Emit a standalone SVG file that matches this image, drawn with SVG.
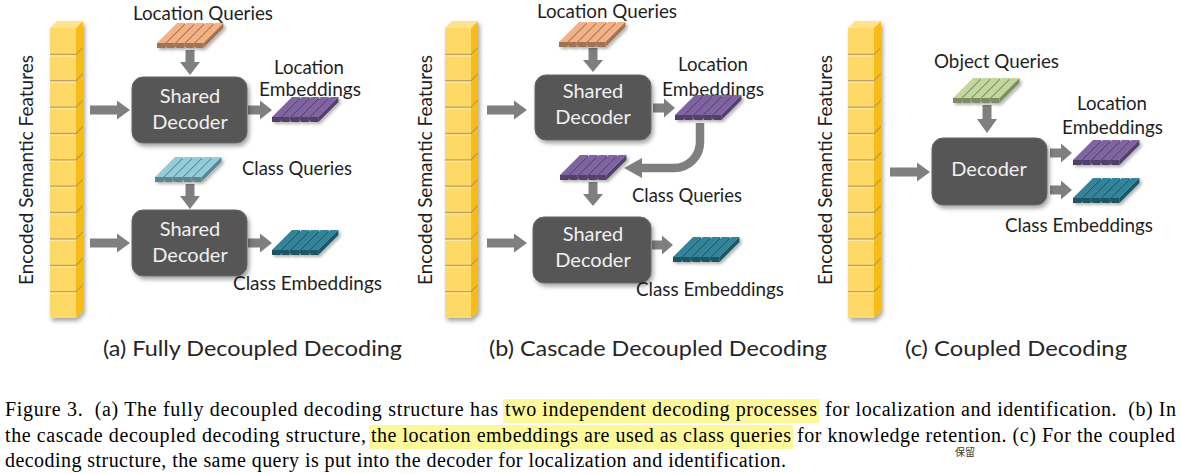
<svg xmlns="http://www.w3.org/2000/svg" xmlns:xlink="http://www.w3.org/1999/xlink" width="1181" height="474" viewBox="0 0 1181 474">
<style>
.lbl{font-family:"Lato","Open Sans","Liberation Sans",sans-serif;font-size:20px;fill:#1f1f1f}
.cap{font-family:"Lato","Open Sans","Liberation Sans",sans-serif;font-size:22px;fill:#262626}
.dt{font-family:"Lato","Open Sans","Liberation Sans",sans-serif;font-size:20px;fill:#f0f0f0;text-anchor:middle}
.fig{font-family:"Liberation Serif","Times New Roman",serif;font-size:20px;fill:#000;white-space:pre}
.arr{fill:#7f7f7f}
.dec{fill:#575757;stroke:#666;stroke-width:1}
.hl{fill:#fdf99a}
.c{fill:currentColor}
.d{fill:#000;fill-opacity:.35}
.sep{stroke:#a8925a;stroke-width:1.3;stroke-opacity:.75}
.seph{stroke:#ffe9a8;stroke-width:1}
</style>
<defs>
<filter id="sh" x="-20%" y="-20%" width="150%" height="150%">
<feDropShadow dx="2" dy="3" stdDeviation="2" flood-color="#000" flood-opacity=".35"/>
</filter>
<filter id="shs" x="-20%" y="-30%" width="150%" height="170%">
<feDropShadow dx="2" dy="2" stdDeviation="1.5" flood-color="#000" flood-opacity=".3"/>
</filter>
<g id="slab">
<polygon class="c" points="8,20 28,0 28,5 8,25"/><polygon class="d" points="8,20 28,0 28,5 8,25"/>
<rect class="c" x="0" y="20" width="8" height="5"/><rect class="d" x="0" y="20" width="8" height="5"/>
<polygon class="c" points="0,20 8,20 28,0 20,0"/>
<polygon class="c" points="17.6,20 37.6,0 37.6,5 17.6,25"/><polygon class="d" points="17.6,20 37.6,0 37.6,5 17.6,25"/>
<rect class="c" x="9.6" y="20" width="8" height="5"/><rect class="d" x="9.6" y="20" width="8" height="5"/>
<polygon class="c" points="9.6,20 17.6,20 37.6,0 29.6,0"/>
<polygon class="c" points="27.2,20 47.2,0 47.2,5 27.2,25"/><polygon class="d" points="27.2,20 47.2,0 47.2,5 27.2,25"/>
<rect class="c" x="19.2" y="20" width="8" height="5"/><rect class="d" x="19.2" y="20" width="8" height="5"/>
<polygon class="c" points="19.2,20 27.2,20 47.2,0 39.2,0"/>
<polygon class="c" points="36.8,20 56.8,0 56.8,5 36.8,25"/><polygon class="d" points="36.8,20 56.8,0 56.8,5 36.8,25"/>
<rect class="c" x="28.8" y="20" width="8" height="5"/><rect class="d" x="28.8" y="20" width="8" height="5"/>
<polygon class="c" points="28.8,20 36.8,20 56.8,0 48.8,0"/>
<polygon class="c" points="46.4,20 66.4,0 66.4,5 46.4,25"/><polygon class="d" points="46.4,20 66.4,0 66.4,5 46.4,25"/>
<rect class="c" x="38.4" y="20" width="8" height="5"/><rect class="d" x="38.4" y="20" width="8" height="5"/>
<polygon class="c" points="38.4,20 46.4,20 66.4,0 58.4,0"/>
</g>
<g id="col">
<rect x="0" y="28" width="26" height="290" fill="#ffd966"/>
<polygon points="26,28 33,21 33,311 26,318" fill="#f7bd12"/>
<polygon points="0,28 7,21 33,21 26,28" fill="#ffe38c"/>
<g class="sep">
<path d="M0,54.4H26L33,47.4M0,80.7H26L33,73.7M0,107.1H26L33,100.1M0,133.5H26L33,126.5M0,159.8H26L33,152.8M0,186.2H26L33,179.2M0,212.5H26L33,205.5M0,238.9H26L33,231.9M0,265.3H26L33,258.3M0,291.6H26L33,284.6" fill="none"/>
</g>
<g class="seph">
<path d="M0,56H26M0,82.3H26M0,108.7H26M0,135.1H26M0,161.4H26M0,187.8H26M0,214.1H26M0,240.5H26M0,266.9H26M0,293.2H26" fill="none"/>
</g>
</g>
</defs>
<rect width="1181" height="474" fill="#fff"/>

<g id="connectors">
<polygon class="arr" points="90,105.5 117,105.5 117,100.5 130,110 117,119.5 117,114.5 90,114.5"/>
<polygon class="arr" points="90,238.5 117,238.5 117,233.5 130,243 117,252.5 117,247.5 90,247.5"/>
<polygon class="arr" points="248,105.5 260,105.5 260,100.5 272,110 260,119.5 260,114.5 248,114.5"/>
<polygon class="arr" points="248,238.5 260,238.5 260,233.5 272,243 260,252.5 260,247.5 248,247.5"/>
<polygon class="arr" points="185.5,50 194.5,50 194.5,62 200,62 190,75 180,62 185.5,62"/>
<polygon class="arr" points="185.5,184 194.5,184 194.5,196 200,196 190,209 180,196 185.5,196"/>

<polygon class="arr" points="487,105.5 514,105.5 514,100.5 527,110 514,119.5 514,114.5 487,114.5"/>
<polygon class="arr" points="487,238.5 514,238.5 514,233.5 527,243 514,252.5 514,247.5 487,247.5"/>
<polygon class="arr" points="653,103.5 664,103.5 664,98.5 675,108 664,117.5 664,112.5 653,112.5"/>
<polygon class="arr" points="652,240.5 662,240.5 662,235.5 673,245 662,254.5 662,249.5 652,249.5"/>
<polygon class="arr" points="588.5,48 597.5,48 597.5,60 603,60 593,72 583,60 588.5,60"/>
<polygon class="arr" points="588.5,182 597.5,182 597.5,194 603,194 593,206 583,194 588.5,194"/>
<path d="M700,123 V142 A26,26 0 0 1 674,168 H640" fill="none" stroke="#7f7f7f" stroke-width="8.5"/>
<polygon class="arr" points="642,158 624,168 642,178"/>

<polygon class="arr" points="890,167.5 917,167.5 917,162.5 930,172 917,181.5 917,176.5 890,176.5"/>
<polygon class="arr" points="1050,148.5 1061,148.5 1061,143.5 1072,153 1061,162.5 1061,157.5 1050,157.5"/>
<polygon class="arr" points="1050,185.5 1061,185.5 1061,180.5 1072,190 1061,199.5 1061,194.5 1050,194.5"/>
<polygon class="arr" points="982.5,105 991.5,105 991.5,119 997,119 987,133 977,119 982.5,119"/>
</g>

<!-- Panel (a) -->
<g id="features-a">
<use xlink:href="#col" x="50" y="0" filter="url(#sh)"/>
<text class="lbl" transform="translate(33,285) rotate(-90)" textLength="230" lengthAdjust="spacingAndGlyphs">Encoded Semantic Features</text>
</g>
<g id="location-queries-a">
<text class="lbl" x="133" y="20" textLength="140" lengthAdjust="spacingAndGlyphs">Location Queries</text>
<use xlink:href="#slab" x="157" y="23" color="#f4b183" filter="url(#shs)"/>
</g>
<g id="decoder-a1">
<rect class="dec" x="132" y="77" width="115" height="66" rx="11" filter="url(#sh)"/>
<text class="dt" x="190" y="103">Shared</text>
<text class="dt" x="190" y="129">Decoder</text>
</g>
<g id="location-emb-a">
<text class="lbl" x="274" y="74" textLength="70" lengthAdjust="spacingAndGlyphs">Location</text>
<text class="lbl" x="259" y="96" textLength="102" lengthAdjust="spacingAndGlyphs">Embeddings</text>
<use xlink:href="#slab" x="272" y="97" color="#8064a2" filter="url(#shs)"/>
</g>
<g id="class-queries-a">
<use xlink:href="#slab" x="155" y="157" color="#92cddc" filter="url(#shs)"/>
<text class="lbl" x="242" y="175" textLength="110" lengthAdjust="spacingAndGlyphs">Class Queries</text>
</g>
<g id="decoder-a2">
<rect class="dec" x="132" y="210" width="115" height="66" rx="11" filter="url(#sh)"/>
<text class="dt" x="190" y="236">Shared</text>
<text class="dt" x="190" y="262">Decoder</text>
</g>
<g id="class-emb-a">
<use xlink:href="#slab" x="272" y="230" color="#31849b" filter="url(#shs)"/>
<text class="lbl" x="233" y="290" textLength="149" lengthAdjust="spacingAndGlyphs">Class Embeddings</text>
</g>
<text class="cap" x="103" y="356" textLength="299" lengthAdjust="spacingAndGlyphs">(a) Fully Decoupled Decoding</text>

<!-- Panel (b) -->
<g id="features-b">
<use xlink:href="#col" x="445" y="0" filter="url(#sh)"/>
<text class="lbl" transform="translate(432,285) rotate(-90)" textLength="230" lengthAdjust="spacingAndGlyphs">Encoded Semantic Features</text>
</g>
<g id="location-queries-b">
<text class="lbl" x="537" y="18" textLength="140" lengthAdjust="spacingAndGlyphs">Location Queries</text>
<use xlink:href="#slab" x="559" y="22" color="#f4b183" filter="url(#shs)"/>
</g>
<g id="decoder-b1">
<rect class="dec" x="535" y="75" width="116" height="65" rx="11" filter="url(#sh)"/>
<text class="dt" x="593" y="98">Shared</text>
<text class="dt" x="593" y="124">Decoder</text>
</g>
<g id="location-emb-b">
<text class="lbl" x="678" y="71" textLength="70" lengthAdjust="spacingAndGlyphs">Location</text>
<text class="lbl" x="662" y="96" textLength="102" lengthAdjust="spacingAndGlyphs">Embeddings</text>
<use xlink:href="#slab" x="675" y="95" color="#8064a2" filter="url(#shs)"/>
</g>
<g id="class-queries-b">
<use xlink:href="#slab" x="560" y="155" color="#8064a2" filter="url(#shs)"/>
<text class="lbl" x="632" y="202" textLength="110" lengthAdjust="spacingAndGlyphs">Class Queries</text>
</g>
<g id="decoder-b2">
<rect class="dec" x="533" y="217" width="118" height="66" rx="11" filter="url(#sh)"/>
<text class="dt" x="593" y="241">Shared</text>
<text class="dt" x="593" y="267">Decoder</text>
</g>
<g id="class-emb-b">
<use xlink:href="#slab" x="673" y="237" color="#31849b" filter="url(#shs)"/>
<text class="lbl" x="636" y="296" textLength="148" lengthAdjust="spacingAndGlyphs">Class Embeddings</text>
</g>
<text class="cap" x="489" y="356" textLength="338" lengthAdjust="spacingAndGlyphs">(b) Cascade Decoupled Decoding</text>

<!-- Panel (c) -->
<g id="features-c">
<use xlink:href="#col" x="848" y="0" filter="url(#sh)"/>
<text class="lbl" transform="translate(832,285) rotate(-90)" textLength="230" lengthAdjust="spacingAndGlyphs">Encoded Semantic Features</text>
</g>
<g id="object-queries-c">
<text class="lbl" x="934" y="68" textLength="125" lengthAdjust="spacingAndGlyphs">Object Queries</text>
<use xlink:href="#slab" x="953" y="78" color="#c3d69b" filter="url(#shs)"/>
</g>
<g id="decoder-c">
<rect class="dec" x="932" y="138" width="115" height="67" rx="11" filter="url(#sh)"/>
<text class="dt" x="989" y="176">Decoder</text>
</g>
<g id="location-emb-c">
<text class="lbl" x="1077" y="110" textLength="70" lengthAdjust="spacingAndGlyphs">Location</text>
<text class="lbl" x="1062" y="134" textLength="101" lengthAdjust="spacingAndGlyphs">Embeddings</text>
<use xlink:href="#slab" x="1073" y="140" color="#8064a2" filter="url(#shs)"/>
</g>
<g id="class-emb-c">
<use xlink:href="#slab" x="1073" y="178" color="#31849b" filter="url(#shs)"/>
<text class="lbl" x="1005" y="232" textLength="148" lengthAdjust="spacingAndGlyphs">Class Embeddings</text>
</g>
<text class="cap" x="905" y="356" textLength="222" lengthAdjust="spacingAndGlyphs">(c) Coupled Decoding</text>

<!-- Figure caption -->
<g id="caption">
<rect class="hl" x="503" y="399" width="316" height="24"/>
<rect class="hl" x="369" y="425" width="424" height="24"/>
<text class="fig" x="5" y="416" textLength="493" lengthAdjust="spacing">Figure 3.  (a) The fully decoupled decoding structure has</text>
<text class="fig" x="505" y="416" textLength="312" lengthAdjust="spacing">two independent decoding processes</text>
<text class="fig" x="825" y="416" textLength="351" lengthAdjust="spacing">for localization and identification.  (b) In</text>
<text class="fig" x="5" y="442" textLength="361" lengthAdjust="spacing">the cascade decoupled decoding structure,</text>
<text class="fig" x="371" y="442" textLength="420" lengthAdjust="spacing">the location embeddings are used as class queries</text>
<text class="fig" x="797" y="442" textLength="378" lengthAdjust="spacing">for knowledge retention. (c) For the coupled</text>
<text class="fig" x="5" y="467" textLength="781" lengthAdjust="spacing">decoding structure, the same query is put into the decoder for localization and identification.</text>
<text x="955" y="456" style="font-family:'Noto Sans CJK SC',sans-serif;font-size:10px;fill:#333">保留</text>
</g>
</svg>
